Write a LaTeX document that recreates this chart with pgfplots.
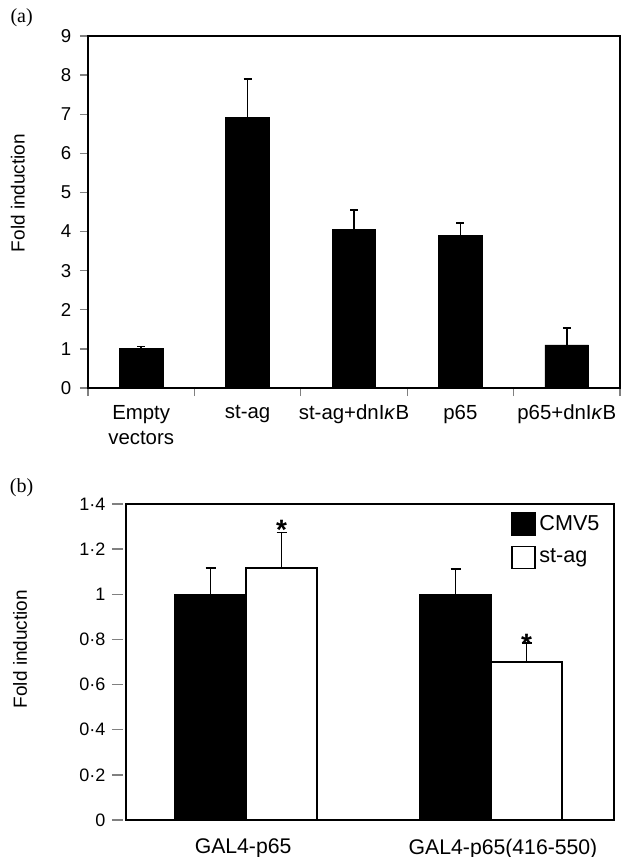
\documentclass[border=0pt]{standalone}
\usepackage{fontspec}
\setmainfont{Liberation Sans}
\newfontfamily\seriffont{Liberation Serif}
\usepackage{pgfplots}
\pgfplotsset{compat=1.18}

% category labels with an italic kappa
\newcommand{\dnikb}{dnI\textit{κ}B}

\pgfplotsset{
  panel/.style={
    scale only axis,
    axis line style={line width=0.7pt},
    ymin=0,
    ytick pos=left, xtick pos=bottom,
    tick align=outside,
    /pgf/number format/assume math mode=true,
    yticklabel style={font=\fontsize{9.3}{11}\selectfont},
    xticklabel style={font=\fontsize{10.2}{12.5}\selectfont},
    ylabel={Fold induction},
    ylabel style={font=\fontsize{9.5}{11}\selectfont, anchor=center},
  },
  errs/.style={
    error bars/.cd, y dir=plus, y explicit,
    error bar style={line width=0.75pt, black},
    error mark options={rotate=90, mark size=#1, line width=0.75pt, black},
  },
  sqlegend/.style={legend image code/.code={
    \draw[#1, line width=0.7pt] (0pt,-5.5pt) rectangle (11.5pt,5.5pt);}},
}

\begin{document}
\begin{tikzpicture}
\useasboundingbox (0,0) rectangle (311.5pt,-428.5pt);

\node[font=\seriffont\fontsize{10}{11}\selectfont] at (10.8pt,-9pt) {(a)};
\node[font=\seriffont\fontsize{10}{11}\selectfont] at (10.8pt,-244pt) {(b)};

% ---------------- panel (a)
\begin{axis}[panel,
  at={(44pt,-194pt)}, anchor=south west,
  width=266pt, height=176pt,
  xmin=-0.5, xmax=4.5, ymax=9,
  ytick={0,1,...,9},
  major tick length=4pt,
  tick style={line width=0.7pt},
  yticklabel style={xshift=-0.8pt},
  xtick={-0.5,0.5,1.5,2.5,3.5,4.5},
  x tick label as interval,
  xticklabels={Empty\\vectors, st-ag, st-ag+\dnikb, p65, p65+\dnikb},
  xticklabel style={align=center, yshift=-1pt},
  ylabel style={at={(axis description cs:-0.132,0.554)}},
]
\addplot[ybar, bar width=0.41, fill=black, draw=black, errs=2pt] coordinates {
  (0,1.01) +- (0,0.05)
  (1,6.91) +- (0,0.99)
  (2,4.05) +- (0,0.50)
  (3,3.90) +- (0,0.32)
  (4,1.10) +- (0,0.43)
};
\end{axis}

% ---------------- panel (b)
\begin{axis}[panel,
  at={(63pt,-410pt)}, anchor=south west,
  width=244pt, height=158pt,
  xmin=-0.49, xmax=1.502, ymax=1.4,
  ytick={0,0.2,0.4,0.6,0.8,1,1.2,1.4},
  yticklabels={0,0·2,0·4,0·6,0·8,1,1·2,1·4},
  major tick length=5.5pt,
  y tick style={xshift=-1.5pt, line width=0.7pt},
  yticklabel style={xshift=-1.3pt, font=\fontsize{9}{11}\selectfont},
  xtick={-0.012,1.049},
  xticklabels={GAL4-p65, GAL4-p65(416-550)},
  x tick style={draw=none},
  xticklabel style={yshift=-0.5pt, font=\fontsize{10.6}{12}\selectfont},
  ylabel style={at={(axis description cs:-0.217,0.541)}},
  legend style={draw=none, fill=none, at={(axis description cs:0.789,0.975)},
    anchor=north west, inner sep=0pt, row sep=5pt, column sep=1.8pt,
    font=\fontsize{10.8}{12}\selectfont, nodes={inner sep=0pt}},
  legend cell align=left,
]
% bars placed at category +- 0.145 (half a bar width)
\addplot[ybar, bar width=0.29, fill=black, draw=black,
  line width=0.7pt, sqlegend, errs=2.5pt] coordinates {
  (-0.145,1.00) +- (0,0.116)
  (0.855,1.00) +- (0,0.112)
};
\addlegendentry{CMV5}
\addplot[ybar, bar width=0.29, fill=white, draw=black,
  line width=0.7pt, sqlegend, errs=2.5pt] coordinates {
  (0.145,1.117) +- (0,0.157)
  (1.145,0.700) +- (0,0.085)
};
\addlegendentry{st-ag}
\node[font=\fontsize{14}{14}\bfseries\selectfont, anchor=base, yshift=-8.2pt]
  at (axis cs:0.145,1.316) {*};
\node[font=\fontsize{14}{14}\bfseries\selectfont, anchor=base, yshift=-8.2pt]
  at (axis cs:1.145,0.81) {*};
\end{axis}
\end{tikzpicture}
\end{document}
